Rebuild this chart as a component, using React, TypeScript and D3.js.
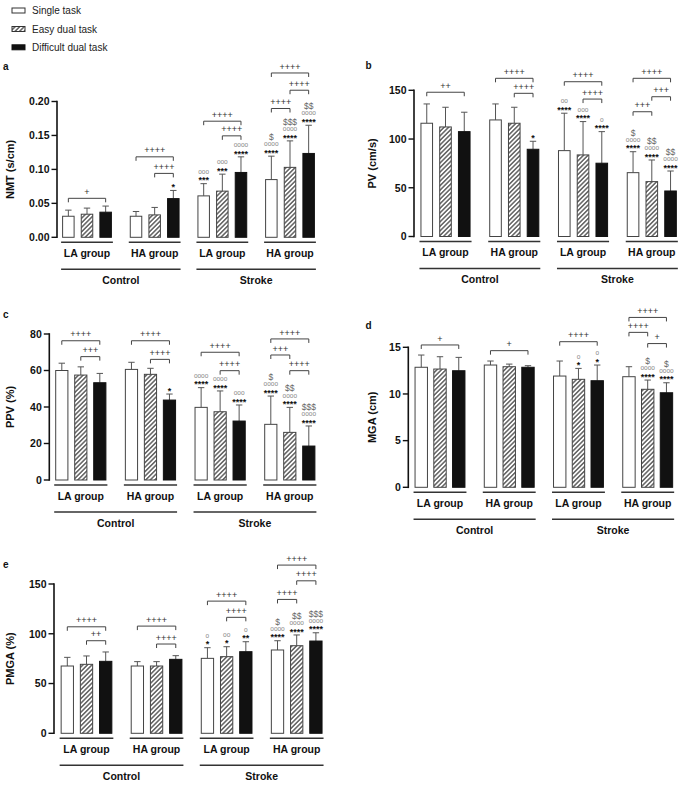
import React from "react";
import * as d3 from "d3";

const FONT = "'Liberation Sans', Arial, Helvetica, sans-serif";

const groups = ["Control LA", "Control HA", "Stroke LA", "Stroke HA"];
const groupLabels = ["LA group", "HA group", "LA group", "HA group"];
const cohorts = ["Control", "Stroke"];
const tasks = ["Single task", "Easy dual task", "Difficult dual task"];

// a: NMT (s/cm)
const nmtMean = [[0.031, 0.034, 0.037], [0.031, 0.033, 0.057], [0.061, 0.068, 0.0955], [0.085, 0.103, 0.1235]];
const nmtSd = [[0.009, 0.009, 0.009], [0.007, 0.011, 0.012], [0.018, 0.025, 0.023], [0.0345, 0.039, 0.0415]];
// b: PV (cm/s)
const pvMean = [[116.2, 112.4, 107.6], [119.6, 116.2, 89.5], [88.1, 83.7, 75.2], [65.5, 56.3, 46.7]];
const pvSd = [[19.8, 20.2, 19.9], [16.4, 16.4, 8.2], [38.4, 34.2, 32.4], [21.5, 22.2, 20.5]];
// c: PPV (%)
const ppvMean = [[60, 57.5, 53.3], [60.6, 57.9, 43.8], [39.8, 37.4, 32.3], [30.5, 26.1, 18.6]];
const ppvSd = [[4, 4.5, 5.1], [3.9, 3.3, 3.3], [10.8, 11.4, 8.8], [15.5, 13.7, 11]];
// d: MGA (cm)
const mgaMean = [[12.86, 12.67, 12.49], [13.1, 12.92, 12.86], [11.92, 11.57, 11.42], [11.85, 10.5, 10.13]];
const mgaSd = [[1.31, 1.32, 1.43], [0.43, 0.28, 0.17], [1.61, 1.17, 1.68], [1.07, 0.99, 1.07]];
// e: PMGA (%)
const pmgaMean = [[67.6, 69.3, 72.3], [67.6, 67.6, 74.3], [75.3, 77, 82], [83.7, 88, 92.7]];
const pmgaSd = [[8.7, 8.4, 9.4], [4.4, 4.4, 3.7], [10.7, 10, 10], [9.3, 10.8, 8.3]];

type Mark = { g: number; t: number; lines: string[] };
type Bracket = { g: number; from: number; to: number; label: string; at: number };

const nmtMarks: Mark[] = [
  { g: 1, t: 2, lines: ["*"] },
  { g: 2, t: 0, lines: ["***", "ooo"] },
  { g: 2, t: 1, lines: ["***", "ooo"] },
  { g: 2, t: 2, lines: ["****", "oooo"] },
  { g: 3, t: 0, lines: ["****", "oooo", "$"] },
  { g: 3, t: 1, lines: ["****", "oooo", "$$$"] },
  { g: 3, t: 2, lines: ["****", "oooo", "$$"] },
];
const nmtBrackets: Bracket[] = [
  { g: 0, from: 0, to: 2, label: "+", at: 0.0574 },
  { g: 1, from: 0, to: 2, label: "++++", at: 0.1185 },
  { g: 1, from: 1, to: 2, label: "++++", at: 0.0941 },
  { g: 2, from: 0, to: 2, label: "++++", at: 0.171 },
  { g: 2, from: 1, to: 2, label: "++++", at: 0.1494 },
  { g: 3, from: 0, to: 2, label: "++++", at: 0.242 },
  { g: 3, from: 1, to: 2, label: "++++", at: 0.2166 },
  { g: 3, from: 0, to: 1, label: "++++", at: 0.1897 },
];

const pvMarks: Mark[] = [
  { g: 1, t: 2, lines: ["*"] },
  { g: 2, t: 0, lines: ["****", "oo"] },
  { g: 2, t: 1, lines: ["****", "ooo"] },
  { g: 2, t: 2, lines: ["****", "o"] },
  { g: 3, t: 0, lines: ["****", "oooo", "$"] },
  { g: 3, t: 1, lines: ["****", "oooo", "$$"] },
  { g: 3, t: 2, lines: ["****", "oooo", "$$"] },
];
const pvBrackets: Bracket[] = [
  { g: 0, from: 0, to: 2, label: "++", at: 148 },
  { g: 1, from: 0, to: 2, label: "++++", at: 162.3 },
  { g: 1, from: 1, to: 2, label: "++++", at: 146.9 },
  { g: 2, from: 0, to: 2, label: "++++", at: 158.8 },
  { g: 2, from: 1, to: 2, label: "++++", at: 141 },
  { g: 3, from: 0, to: 2, label: "++++", at: 162.3 },
  { g: 3, from: 1, to: 2, label: "+++", at: 143.4 },
  { g: 3, from: 0, to: 1, label: "+++", at: 128 },
];

const ppvMarks: Mark[] = [
  { g: 1, t: 2, lines: ["*"] },
  { g: 2, t: 0, lines: ["****", "oooo"] },
  { g: 2, t: 1, lines: ["****", "oooo"] },
  { g: 2, t: 2, lines: ["****", "ooo"] },
  { g: 3, t: 0, lines: ["****", "oooo", "$"] },
  { g: 3, t: 1, lines: ["****", "oooo", "$$"] },
  { g: 3, t: 2, lines: ["****", "oooo", "$$$"] },
];
const ppvBrackets: Bracket[] = [
  { g: 0, from: 0, to: 2, label: "++++", at: 76.3 },
  { g: 0, from: 1, to: 2, label: "+++", at: 67.6 },
  { g: 1, from: 0, to: 2, label: "++++", at: 76.3 },
  { g: 1, from: 1, to: 2, label: "++++", at: 66.1 },
  { g: 2, from: 0, to: 2, label: "++++", at: 70 },
  { g: 2, from: 1, to: 2, label: "++++", at: 59.9 },
  { g: 3, from: 0, to: 2, label: "++++", at: 77.3 },
  { g: 3, from: 0, to: 1, label: "+++", at: 68.5 },
  { g: 3, from: 1, to: 2, label: "++++", at: 59.9 },
];

const mgaMarks: Mark[] = [
  { g: 2, t: 1, lines: ["*", "o"] },
  { g: 2, t: 2, lines: ["*", "o"] },
  { g: 3, t: 1, lines: ["****", "oooo", "$"] },
  { g: 3, t: 2, lines: ["****", "oooo", "$"] },
];
const mgaBrackets: Bracket[] = [
  { g: 0, from: 0, to: 2, label: "+", at: 15.25 },
  { g: 1, from: 0, to: 2, label: "+", at: 14.64 },
  { g: 2, from: 0, to: 2, label: "++++", at: 15.6 },
  { g: 3, from: 0, to: 2, label: "++++", at: 18.2 },
  { g: 3, from: 0, to: 1, label: "++++", at: 16.6 },
  { g: 3, from: 1, to: 2, label: "+", at: 15.4 },
];

const pmgaMarks: Mark[] = [
  { g: 2, t: 0, lines: ["*", "o"] },
  { g: 2, t: 1, lines: ["*", "oo"] },
  { g: 2, t: 2, lines: ["**", "o"] },
  { g: 3, t: 0, lines: ["****", "oooo", "$"] },
  { g: 3, t: 1, lines: ["****", "oooo", "$$"] },
  { g: 3, t: 2, lines: ["****", "oooo", "$$$"] },
];
const pmgaBrackets: Bracket[] = [
  { g: 0, from: 0, to: 2, label: "++++", at: 107 },
  { g: 0, from: 1, to: 2, label: "++", at: 93 },
  { g: 1, from: 0, to: 2, label: "++++", at: 107.7 },
  { g: 1, from: 1, to: 2, label: "++++", at: 89.7 },
  { g: 2, from: 0, to: 2, label: "++++", at: 132.8 },
  { g: 2, from: 1, to: 2, label: "++++", at: 116.5 },
  { g: 3, from: 0, to: 2, label: "++++", at: 169 },
  { g: 3, from: 1, to: 2, label: "++++", at: 153.2 },
  { g: 3, from: 0, to: 1, label: "++++", at: 134.5 },
];

type Cfg = {
  letter: string; lx: number; ly: number;
  axisX: number; y0: number; yTop: number; max: number; ticks: number[]; fmt: string;
  c1: number; c4: number; off: number; bw: number; ylabel: string; ylabelX: number;
};

const panels: { cfg: Cfg; means: number[][]; sds: number[][]; marks: Mark[]; brackets: Bracket[] }[] = [
  {
    cfg: { letter: "a", lx: 3, ly: 70, axisX: 57, y0: 237.3, yTop: 101.5, max: 0.2, ticks: [0, 0.05, 0.1, 0.15, 0.2], fmt: ".2f",
      c1: 87, c4: 290, off: 18.65, bw: 11.5, ylabel: "NMT (s/cm)", ylabelX: 10 },
    means: nmtMean, sds: nmtSd, marks: nmtMarks, brackets: nmtBrackets,
  },
  {
    cfg: { letter: "b", lx: 365.5, ly: 68.5, axisX: 414, y0: 236.5, yTop: 90.3, max: 150, ticks: [0, 50, 100, 150], fmt: "d",
      c1: 445.5, c4: 651.8, off: 18.75, bw: 11.6, ylabel: "PV (cm/s)", ylabelX: 371.7 },
    means: pvMean, sds: pvSd, marks: pvMarks, brackets: pvBrackets,
  },
  {
    cfg: { letter: "c", lx: 3, ly: 318, axisX: 49.3, y0: 480, yTop: 334, max: 80, ticks: [0, 20, 40, 60, 80], fmt: "d",
      c1: 80.8, c4: 289.8, off: 19, bw: 12.2, ylabel: "PPV (%)", ylabelX: 10 },
    means: ppvMean, sds: ppvSd, marks: ppvMarks, brackets: ppvBrackets,
  },
  {
    cfg: { letter: "d", lx: 365.5, ly: 328.5, axisX: 408.3, y0: 487.3, yTop: 347.3, max: 15, ticks: [0, 5, 10, 15], fmt: "d",
      c1: 440, c4: 647.7, off: 18.75, bw: 12.4, ylabel: "MGA (cm)", ylabelX: 371.7 },
    means: mgaMean, sds: mgaSd, marks: mgaMarks, brackets: mgaBrackets,
  },
  {
    cfg: { letter: "e", lx: 3, ly: 568, axisX: 54, y0: 733.3, yTop: 584, max: 150, ticks: [0, 50, 100, 150], fmt: "d",
      c1: 86.5, c4: 296.7, off: 19.2, bw: 12.3, ylabel: "PMGA (%)", ylabelX: 10 },
    means: pmgaMean, sds: pmgaSd, marks: pmgaMarks, brackets: pmgaBrackets,
  },
];

const taskFill = ["#ffffff", "url(#hatch)", "#111111"];

function markStyle(s: string) {
  if (s.includes("*")) return { size: 9, weight: 700, fill: "#111", base: 5.2 };
  if (s.includes("o")) return { size: 6.5, weight: 400, fill: "#888", base: 1.7 };
  return { size: 8.5, weight: 400, fill: "#666", base: 3 };
}
const stackOffsets = [5.5, 11.5, 19];

function Panel({ cfg, means, sds, marks, brackets }: { cfg: Cfg; means: number[][]; sds: number[][]; marks: Mark[]; brackets: Bracket[] }) {
  const y = d3.scaleLinear().domain([0, cfg.max]).range([cfg.y0, cfg.yTop]);
  const gx = d3.scalePoint<string>().domain(groups).range([cfg.c1, cfg.c4]);
  const tx = d3.scalePoint<string>().domain(tasks).range([-cfg.off, cfg.off]);
  const bx = (g: number, t: number) => (gx(groups[g]) as number) + (tx(tasks[t]) as number);
  const fmt = d3.format(cfg.fmt);
  const half = cfg.off + cfg.bw / 2 + 1.5;
  const midY = (cfg.y0 + cfg.yTop) / 2;

  return (
    <g fontFamily={FONT}>
      <text x={cfg.lx} y={cfg.ly} fontSize={10} fontWeight={700} fill="#111">{cfg.letter}</text>
      {/* y axis */}
      <line x1={cfg.axisX} x2={cfg.axisX} y1={y(0) + 0.8} y2={y(cfg.max) - 0.8} stroke="#111" strokeWidth={1.6} />
      {cfg.ticks.map((t) => (
        <g key={t}>
          <line x1={cfg.axisX - 5.5} x2={cfg.axisX} y1={y(t)} y2={y(t)} stroke="#111" strokeWidth={1.4} />
          <text x={cfg.axisX - 7.5} y={y(t) + 3.8} textAnchor="end" fontSize={10.5} fontWeight={700} fill="#111">{fmt(t)}</text>
        </g>
      ))}
      <text transform={`translate(${cfg.ylabelX},${midY}) rotate(-90)`} y={4} textAnchor="middle" fontSize={11} fontWeight={700} fill="#111">{cfg.ylabel}</text>
      {/* bars */}
      {means.map((row, g) =>
        row.map((m, t) => {
          const cx = bx(g, t);
          const top = y(m + sds[g][t]);
          return (
            <g key={`${g}-${t}`}>
              <line x1={cx} x2={cx} y1={y(m)} y2={top} stroke="#555" strokeWidth={1} />
              <line x1={cx - 3.2} x2={cx + 3.2} y1={top} y2={top} stroke="#555" strokeWidth={1} />
              <rect x={cx - cfg.bw / 2} y={y(m)} width={cfg.bw} height={y(0) - y(m)} fill={taskFill[t]}
                stroke={t === 2 ? "#111" : "#444"} strokeWidth={1} />
            </g>
          );
        })
      )}
      {/* group underlines & labels */}
      {groups.map((gname, g) => {
        const c = gx(gname) as number;
        return (
          <g key={gname}>
            <line x1={c - half} x2={c + half} y1={cfg.y0 + 5} y2={cfg.y0 + 5} stroke="#333" strokeWidth={1.6} />
            <text x={c} y={cfg.y0 + 19.8} textAnchor="middle" fontSize={10.5} fontWeight={700} fill="#111">{groupLabels[g]}</text>
          </g>
        );
      })}
      {cohorts.map((co, i) => {
        const a = (gx(groups[i * 2]) as number) - half;
        const b = (gx(groups[i * 2 + 1]) as number) + half;
        return (
          <g key={co}>
            <line x1={a} x2={b} y1={cfg.y0 + 32} y2={cfg.y0 + 32} stroke="#333" strokeWidth={1.6} />
            <text x={(a + b) / 2} y={cfg.y0 + 46.8} textAnchor="middle" fontSize={10.5} fontWeight={700} fill="#111">{co}</text>
          </g>
        );
      })}
      {/* brackets */}
      {brackets.map((br, i) => {
        const x1 = bx(br.g, br.from);
        const x2 = bx(br.g, br.to);
        const yy = y(br.at);
        return (
          <g key={`br${i}`}>
            <path d={`M${x1},${yy + 4}V${yy}H${x2}V${yy + 4}`} fill="none" stroke="#444" strokeWidth={1} />
            <text x={(x1 + x2) / 2} y={yy - 3.4} textAnchor="middle" fontSize={9} fill="#333">{br.label}</text>
          </g>
        );
      })}
      {/* significance marks */}
      {marks.map((mk, i) => {
        const cx = bx(mk.g, mk.t);
        const top = y(means[mk.g][mk.t] + sds[mk.g][mk.t]);
        return (
          <g key={`mk${i}`}>
            {mk.lines.map((s, j) => {
              const st = markStyle(s);
              return (
                <text key={j} x={cx} y={top - stackOffsets[j] + st.base} textAnchor="middle" fontSize={st.size}
                  fontWeight={st.weight} fill={st.fill}>{s}</text>
              );
            })}
          </g>
        );
      })}
    </g>
  );
}

function Legend() {
  const rows = [10.5, 29, 47.3];
  return (
    <g fontFamily={FONT}>
      {tasks.map((t, i) => (
        <g key={t}>
          <rect x={12} y={rows[i] - 2.5} width={13} height={5} fill={taskFill[i]} stroke={i === 2 ? "#111" : "#333"} strokeWidth={1} />
          <text x={32} y={rows[i] + 3.6} fontSize={10} fill="#222">{t}</text>
        </g>
      ))}
    </g>
  );
}

export default function App() {
  return (
    <svg width={685} height={789} viewBox="0 0 685 789" style={{ position: "absolute", left: 0, top: 0, background: "#fff" }}>
      <defs>
        <pattern id="hatch" width={3.2} height={3.2} patternUnits="userSpaceOnUse" patternTransform="rotate(45)">
          <rect width={3.2} height={3.2} fill="#fff" />
          <line x1={0.8} y1={0} x2={0.8} y2={3.2} stroke="#555" strokeWidth={1.4} />
        </pattern>
      </defs>
      <rect width={685} height={789} fill="#fff" />
      <Legend />
      {panels.map((p) => (
        <Panel key={p.cfg.letter} {...p} />
      ))}
    </svg>
  );
}
